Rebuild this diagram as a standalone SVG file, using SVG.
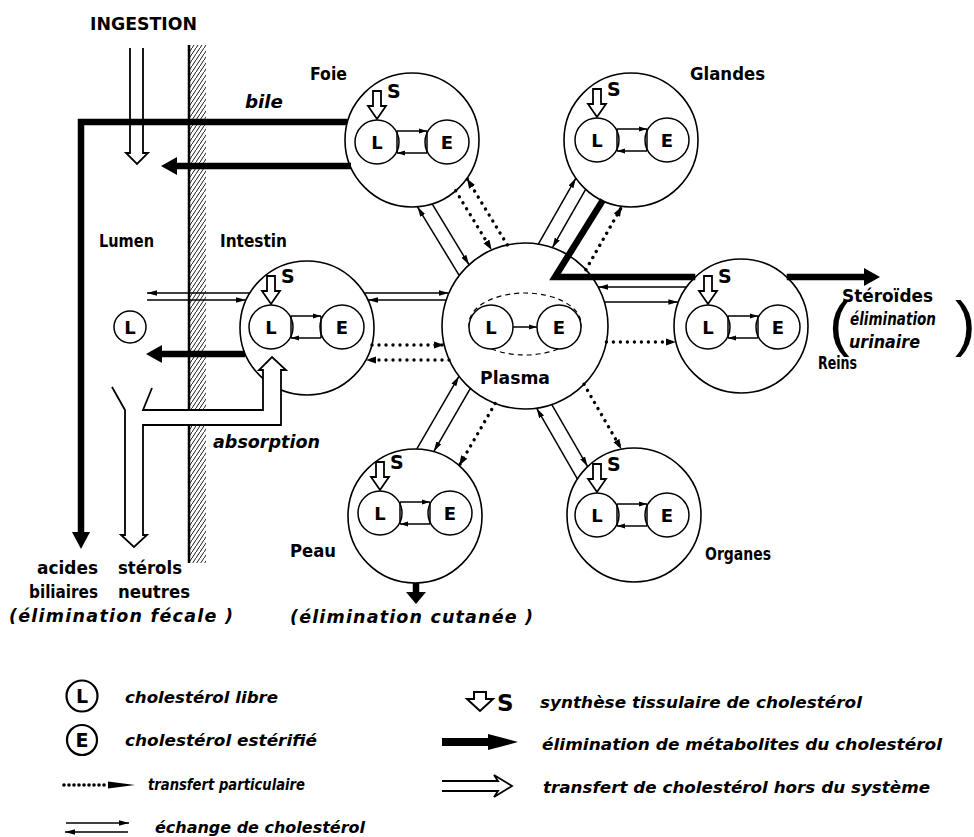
<svg xmlns="http://www.w3.org/2000/svg" width="974" height="837" viewBox="0 0 974 837">
<defs>
<style>
.c{fill:#fff;stroke:#000;stroke-width:1.6}
.ci{fill:#fff;stroke:#000;stroke-width:1.5}
.lk{fill:none;stroke:#000;stroke-width:1.5}
.ex{fill:none;stroke:#000;stroke-width:1.5}
.dt{fill:none;stroke:#000;stroke-width:3.4;stroke-dasharray:0 7;stroke-linecap:round}
.th{fill:none;stroke:#000;stroke-width:6.5;stroke-linejoin:miter;stroke-miterlimit:10}
.ho{fill:#fff;stroke:#000;stroke-width:1.8;stroke-linejoin:miter}
text{font-family:"DejaVu Sans","Liberation Sans",sans-serif;font-weight:bold;fill:#000}
.i{font-style:oblique}
.lt{font-size:18px;text-anchor:middle}
.s{font-size:19px}
.lab{font-size:17.5px}
.lg{font-size:16.5px;font-style:oblique}
.par{font-family:"Liberation Sans",sans-serif;font-weight:normal;font-size:62px}
</style>
<pattern id="hatch" patternUnits="userSpaceOnUse" width="4" height="6">
<path d="M-1,7.5 L5,-1.5" stroke="#000" stroke-width="0.9"/>
</pattern>
<marker id="ah" markerUnits="userSpaceOnUse" viewBox="0 0 10 8" markerWidth="10" markerHeight="8" refX="10" refY="4" orient="auto"><path d="M0,1.2 L10,4 L0,6.8 Z"/></marker>
<marker id="as" markerUnits="userSpaceOnUse" viewBox="0 0 8 6" markerWidth="8" markerHeight="6" refX="8" refY="3" orient="auto"><path d="M0,0.6 L8,3 L0,5.4 Z"/></marker>
<marker id="dh" markerUnits="userSpaceOnUse" viewBox="0 0 10 8" markerWidth="10" markerHeight="8" refX="10" refY="4" orient="auto"><path d="M0,0.5 L10,4 L0,7.5 Z"/></marker>
</defs>
<rect width="974" height="837" fill="#fff"/>

<g id="wall">
<rect x="189" y="45" width="17" height="518" fill="url(#hatch)"/>
<line x1="189" y1="45" x2="189" y2="563" stroke="#000" stroke-width="2.5"/>
</g>

<g id="lumen">
<circle class="ci" cx="130" cy="327" r="16"/>
<text class="lt" x="130" y="333.5">L</text>
<text class="lab" x="99" y="247" textLength="55" lengthAdjust="spacingAndGlyphs">Lumen</text>
</g>

<g id="plasma">
<circle class="c" cx="525" cy="326" r="83"/>
<ellipse cx="525" cy="324" rx="56" ry="31" fill="none" stroke="#000" stroke-width="1.2" stroke-dasharray="5 4"/>
<circle class="ci" cx="491" cy="327" r="22"/><text class="lt" x="491" y="333.5">L</text>
<circle class="ci" cx="559" cy="327" r="22"/><text class="lt" x="559" y="333.5">E</text>
<path class="lk" d="M513,327H537" marker-end="url(#as)"/>
<text class="lab" x="480" y="384" textLength="70" lengthAdjust="spacingAndGlyphs">Plasma</text>
</g>

<g id="foie">
<circle class="c" cx="412" cy="140" r="67"/>
<circle class="ci" cx="377" cy="142" r="22"/><text class="lt" x="377" y="148.5">L</text>
<circle class="ci" cx="447" cy="142" r="22"/><text class="lt" x="447" y="148.5">E</text>
<path class="lk" d="M397,131V153M427,131V153"/>
<path class="lk" d="M397,131H427" marker-end="url(#as)"/>
<path class="lk" d="M427,153H397" marker-end="url(#as)"/>
<path class="ho" d="M373,91V106H368L377,119L386,106H381V91Z"/>
<text class="s" x="387" y="98">S</text>
<text class="lab" x="310" y="80" textLength="37" lengthAdjust="spacingAndGlyphs">Foie</text>
</g>

<g id="glandes">
<circle class="c" cx="631" cy="140" r="67"/>
<circle class="ci" cx="597" cy="140" r="22"/><text class="lt" x="597" y="146.5">L</text>
<circle class="ci" cx="667" cy="140" r="22"/><text class="lt" x="667" y="146.5">E</text>
<path class="lk" d="M617,129V151M647,129V151"/>
<path class="lk" d="M617,129H647" marker-end="url(#as)"/>
<path class="lk" d="M647,151H617" marker-end="url(#as)"/>
<path class="ho" d="M593,89V104H588L597,117L606,104H601V89Z"/>
<text class="s" x="607" y="96">S</text>
<text class="lab" x="690" y="80" textLength="75" lengthAdjust="spacingAndGlyphs">Glandes</text>
</g>

<g id="intestin">
<circle class="c" cx="307" cy="328" r="67"/>
<circle class="ci" cx="271" cy="327" r="22"/><text class="lt" x="271" y="333.5">L</text>
<circle class="ci" cx="342" cy="327" r="22"/><text class="lt" x="342" y="333.5">E</text>
<path class="lk" d="M291,316V338M321,316V338"/>
<path class="lk" d="M291,316H321" marker-end="url(#as)"/>
<path class="lk" d="M321,338H291" marker-end="url(#as)"/>
<path class="ho" d="M267,276V291H262L271,304L280,291H275V276Z"/>
<text class="s" x="281" y="283">S</text>
<text class="lab" x="220" y="247" textLength="67" lengthAdjust="spacingAndGlyphs">Intestin</text>
</g>

<g id="reins">
<circle class="c" cx="741" cy="326" r="67"/>
<circle class="ci" cx="708" cy="327" r="22"/><text class="lt" x="708" y="333.5">L</text>
<circle class="ci" cx="778" cy="327" r="22"/><text class="lt" x="778" y="333.5">E</text>
<path class="lk" d="M728,316V338M758,316V338"/>
<path class="lk" d="M728,316H758" marker-end="url(#as)"/>
<path class="lk" d="M758,338H728" marker-end="url(#as)"/>
<path class="ho" d="M704,276V291H699L708,304L717,291H712V276Z"/>
<text class="s" x="718" y="283">S</text>
<text class="lab" x="818" y="369" textLength="39" lengthAdjust="spacingAndGlyphs">Reins</text>
</g>

<g id="peau">
<circle class="c" cx="415" cy="516" r="67"/>
<circle class="ci" cx="380" cy="513" r="22"/><text class="lt" x="380" y="519.5">L</text>
<circle class="ci" cx="450" cy="513" r="22"/><text class="lt" x="450" y="519.5">E</text>
<path class="lk" d="M400,502V524M430,502V524"/>
<path class="lk" d="M400,502H430" marker-end="url(#as)"/>
<path class="lk" d="M430,524H400" marker-end="url(#as)"/>
<path class="ho" d="M376,462V477H371L380,490L389,477H384V462Z"/>
<text class="s" x="390" y="469">S</text>
<text class="lab" x="290" y="557" textLength="46" lengthAdjust="spacingAndGlyphs">Peau</text>
</g>

<g id="organes">
<circle class="c" cx="634" cy="515" r="67"/>
<circle class="ci" cx="597" cy="515" r="22"/><text class="lt" x="597" y="521.5">L</text>
<circle class="ci" cx="667" cy="515" r="22"/><text class="lt" x="667" y="521.5">E</text>
<path class="lk" d="M617,504V526M647,504V526"/>
<path class="lk" d="M617,504H647" marker-end="url(#as)"/>
<path class="lk" d="M647,526H617" marker-end="url(#as)"/>
<path class="ho" d="M593,464V479H588L597,492L606,479H601V464Z"/>
<text class="s" x="607" y="471">S</text>
<text class="lab" x="705" y="560" textLength="66" lengthAdjust="spacingAndGlyphs">Organes</text>
</g>

<g id="connectors">
<g transform="translate(525,326) rotate(-121.28)">
<line class="ex" x1="77.4" y1="-30" x2="157.7" y2="-30" marker-end="url(#ah)"/>
<line class="ex" x1="152.5" y1="-16" x2="81.4" y2="-16" marker-end="url(#ah)"/>
<line class="dt" x1="151.5" y1="11" x2="82.3" y2="11" marker-end="url(#dh)"/>
<line class="dt" x1="78.5" y1="27" x2="156.3" y2="27" marker-end="url(#dh)"/>
</g>
<g transform="translate(525,326) rotate(-60.32)">
<line class="ex" x1="77.8" y1="-29" x2="153.7" y2="-29" marker-end="url(#ah)"/>
<line class="ex" x1="148.8" y1="-15" x2="81.6" y2="-15" marker-end="url(#ah)"/>
<line class="dt" x1="79.1" y1="25" x2="151.9" y2="25" marker-end="url(#dh)"/>
</g>
<g transform="translate(525,326) rotate(120.07)">
<line class="ex" x1="160.6" y1="32" x2="76.6" y2="32" marker-end="url(#ah)"/>
<line class="ex" x1="81.4" y1="16" x2="154.4" y2="16" marker-end="url(#ah)"/>
<line class="dt" x1="82" y1="-13" x2="153.8" y2="-13" marker-end="url(#dh)"/>
</g>
<g transform="translate(525,326) rotate(60.03)">
<line class="ex" x1="158.8" y1="31" x2="77" y2="31" marker-end="url(#ah)"/>
<line class="ex" x1="81.4" y1="16" x2="153.1" y2="16" marker-end="url(#ah)"/>
<line class="dt" x1="80" y1="-22" x2="154.9" y2="-22" marker-end="url(#dh)"/>
</g>
<path class="ex" d="M364,293H448.8" marker-end="url(#ah)"/>
<path class="ex" d="M446.2,300H368" marker-end="url(#ah)"/>
<path class="dt" d="M372,345H444" marker-end="url(#dh)"/>
<path class="dt" d="M449,360H366" marker-end="url(#dh)"/>
<path class="ex" d="M686.5,287H598.3" marker-end="url(#ah)"/>
<path class="ex" d="M604.5,302H678.4" marker-end="url(#ah)"/>
<path class="dt" d="M606.4,342H675.9" marker-end="url(#dh)"/>
<path class="ex" d="M250,293H147" marker-end="url(#ah)"/>
<path class="ex" d="M147,300H246" marker-end="url(#ah)"/>
<path class="ho" d="M130,48V153H126L137,164L148,153H143V48"/>
<path class="th" d="M347,122H81V533"/>
<polygon points="72,532 90,532 81,549"/>
<path class="th" d="M351,166H175"/>
<polygon points="177,157 177,175 161,166"/>
<path class="th" d="M245,354H160"/>
<polygon points="162,345 162,363 146,354"/>
<path class="th" d="M603,200L555,277H695.3M786.7,277H866"/>
<polygon points="864,268 864,286 880,277"/>
<path class="th" d="M416,583V593"/>
<polygon points="406,592 426,592 416,604"/>
<path class="ho" d="M112,387L125,410V535H121L134,547L147,535H143V425H281V370H286L272,357L259,370H263V410H143L152,388"/>
</g>

<g id="labels">
<text x="90" y="30" style="font-size:17.5px" textLength="107" lengthAdjust="spacingAndGlyphs">INGESTION</text>
<text class="lab i" x="245" y="108" textLength="38" lengthAdjust="spacingAndGlyphs">bile</text>
<text class="lab i" x="213" y="448" textLength="107" lengthAdjust="spacingAndGlyphs">absorption</text>
<text class="lab" x="842" y="302" textLength="91" lengthAdjust="spacingAndGlyphs">Stéroïdes</text>
<text class="lab i" x="850" y="325" textLength="86" lengthAdjust="spacingAndGlyphs">élimination</text>
<text class="lab i" x="849" y="348" textLength="71" lengthAdjust="spacingAndGlyphs">urinaire</text>
<text class="par" x="829" y="344">(</text>
<text class="par" x="955" y="344">)</text>
<text class="lab" x="37" y="574" textLength="61" lengthAdjust="spacingAndGlyphs">acides</text>
<text class="lab" x="118" y="574" textLength="64" lengthAdjust="spacingAndGlyphs">stérols</text>
<text class="lab" x="29" y="598" textLength="69" lengthAdjust="spacingAndGlyphs">biliaires</text>
<text class="lab" x="118" y="598" textLength="72" lengthAdjust="spacingAndGlyphs">neutres</text>
<text class="lab i" x="9" y="622" textLength="224">(élimination fécale )</text>
<text class="lab i" x="290" y="623" textLength="243">(élimination cutanée )</text>
</g>

<g id="legend">
<circle cx="82" cy="696" r="15.5" fill="#fff" stroke="#000" stroke-width="2.2"/>
<text x="82" y="703" style="font-size:19px;text-anchor:middle">L</text>
<circle cx="82" cy="740" r="15" fill="#fff" stroke="#000" stroke-width="2.2"/>
<text x="82" y="747" style="font-size:19px;text-anchor:middle">E</text>
<text class="lg" x="125" y="703" textLength="153" lengthAdjust="spacingAndGlyphs">cholestérol libre</text>
<text class="lg" x="125" y="746" textLength="192" lengthAdjust="spacingAndGlyphs">cholestérol estérifié</text>
<path d="M64,785H108" fill="none" stroke="#000" stroke-width="3.6" stroke-dasharray="0 5" stroke-linecap="round"/>
<polygon points="108,781.5 135,785 108,788.5"/>
<text class="lg" x="148" y="790" textLength="157" lengthAdjust="spacingAndGlyphs">transfert particulaire</text>
<path class="ex" d="M66,823H129" marker-end="url(#ah)"/>
<path class="ex" d="M128,832H65" marker-end="url(#ah)"/>
<text class="lg" x="155" y="833" textLength="210" lengthAdjust="spacingAndGlyphs">échange de cholestérol</text>
<path d="M474,692H486V699H493L480,711L467,699H474Z" fill="#fff" stroke="#000" stroke-width="2"/>
<text x="497" y="711" style="font-size:23px">S</text>
<text class="lg" x="540" y="708" textLength="322" lengthAdjust="spacingAndGlyphs">synthèse tissulaire de cholestérol</text>
<path d="M442,742H492" stroke="#000" stroke-width="8"/>
<polygon points="488,734 518,742 488,750"/>
<text class="lg" x="542" y="750" textLength="400" lengthAdjust="spacingAndGlyphs">élimination de métabolites du cholestérol</text>
<path d="M442,781H498L494,775L512,786L494,797L498,791H442" fill="#fff" stroke="#000" stroke-width="1.8"/>
<text class="lg" x="543" y="793" textLength="387" lengthAdjust="spacingAndGlyphs">transfert de cholestérol hors du système</text>
</g>
</svg>
